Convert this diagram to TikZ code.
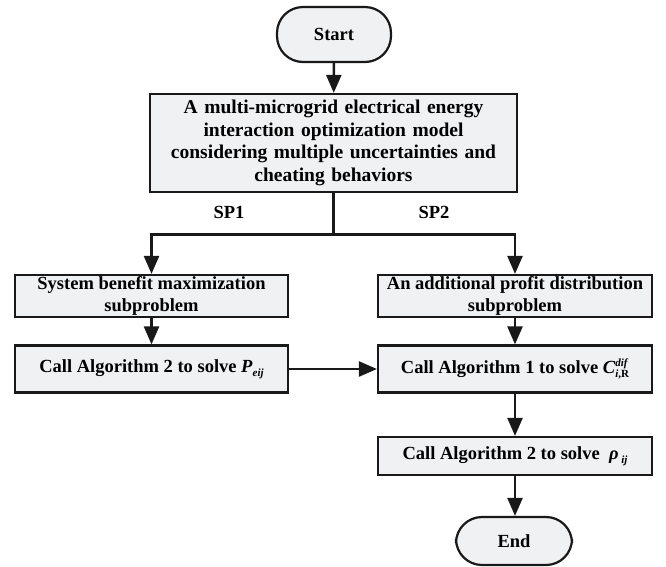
\documentclass[tikz,border=0pt]{standalone}
\usepackage{fontspec}
\setmainfont{Liberation Serif}
\usetikzlibrary{arrows.meta}
\definecolor{boxfill}{RGB}{240,241,243}
\newcommand{\supsub}[2]{\makebox[0pt][l]{\raisebox{0.9ex}{\fontsize{11}{11}\selectfont\textit{#1}}}\raisebox{-0.5ex}{\fontsize{11}{11}\selectfont #2}}
\begin{document}
\begin{tikzpicture}[x=1pt,y=-1pt,
  box/.style={draw=black!90, line width=2.2pt, fill=boxfill, inner sep=0pt, align=center,
    font=\fontsize{18.5}{22}\selectfont\bfseries},
  term/.style={box, rounded corners=26pt},
  arr/.style={line width=2.4pt, draw=black!90, -{Triangle[length=18pt,width=15pt]}},
  lbl/.style={font=\fontsize{18.5}{20}\selectfont\bfseries, inner sep=0pt}]
\useasboundingbox (0,0) rectangle (666,566);
\node[term, minimum width=114pt, minimum height=55pt] (start) at (334,34.5) {Start};
\node[box, minimum width=367pt, minimum height=98pt, text width=360pt,
  font=\fontsize{19.5}{22.5}\selectfont\bfseries] (model) at (333.5,143)
  {A multi-microgrid electrical energy\\ interaction optimization model\\ considering multiple uncertainties and\\ cheating behaviors};
\node[box, minimum width=273pt, minimum height=42pt] (sp1) at (151.5,296) {System benefit maximization\\ subproblem};
\node[box, minimum width=274pt, minimum height=42pt] (sp2) at (515,296) {An additional profit distribution\\ subproblem};
\node[box, minimum width=273pt, minimum height=47pt] (a2l) at (151.5,369) {Call Algorithm 2 to solve \textit{P}\raisebox{-0.45ex}{\fontsize{11}{11}\selectfont\textit{eij}}};
\node[box, minimum width=274pt, minimum height=47pt] (a1) at (515,369) {Call Algorithm 1 to solve \textit{C}\supsub{dif}{\textit{i},R}};
\node[box, minimum width=274pt, minimum height=38pt] (a2r) at (515,456) {Call Algorithm 2 to solve \ \textit{ρ}\raisebox{-0.45ex}{\fontsize{11}{11}\selectfont\textit{ ij}}};
\node[term, minimum width=116pt, minimum height=48pt] (end) at (514,541) {End};
\node[lbl] (l1) at (229,212) {SP1};
\node[lbl] (l2) at (434,212) {SP2};
\draw[arr] (start) -- (model);
\draw[line width=2.4pt, draw=black!90] (model.south) -- ++(0,41.5) coordinate (split);
\draw[arr] (split) -| (sp1.north);
\draw[arr] (split) -| (sp2.north);
\draw[arr] (sp1) -- (a2l);
\draw[arr] (sp2) -- (a1);
\draw[arr] (a2l) -- (a1);
\draw[arr] (a1) -- (a2r);
\draw[arr] (a2r.south) -- (a2r.south |- end.north);
\end{tikzpicture}
\end{document}
